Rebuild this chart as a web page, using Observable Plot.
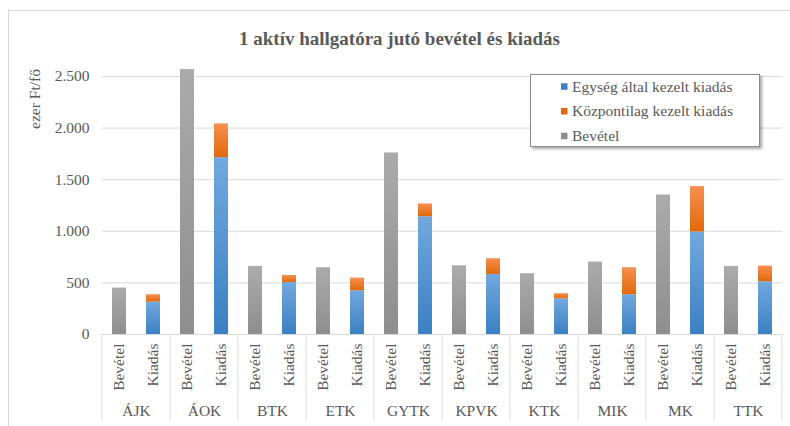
<!DOCTYPE html>
<html><head><meta charset="utf-8">
<script src="https://cdn.jsdelivr.net/npm/d3@7"></script>
<script src="https://cdn.jsdelivr.net/npm/@observablehq/plot@0.6"></script>
<style>
body{margin:0;background:#fff}
#chart svg, #chart svg text{font-family:"Liberation Serif","Times New Roman",serif !important;}
#chart svg{font-size:15.5px !important;}
</style>
</head><body><div id="chart"></div>
<script>
const groups = ["ÁJK","ÁOK","BTK","ETK","GYTK","KPVK","KTK","MIK","MK","TTK"];
const types = ["Bevétel","Kiadás"];
const seriesNames = ["Egység által kezelt kiadás","Központilag kezelt kiadás","Bevétel"];
const bevetel = [450, 2567, 660, 647, 1759, 666, 589, 702, 1352, 660];
const egysegKiadas = [314, 1714, 504, 424, 1141, 582, 346, 385, 993, 511];
const kozpontiKiadas = [71, 326, 68, 123, 124, 152, 49, 262, 440, 152];
const yTicks = [0, 500, 1000, 1500, 2000, 2500];
const titleText = "1 aktív hallgatóra jutó bevétel és kiadás";
const yTitle = "ezer Ft/fő";
const seriesColors = [["#72a8de","#3a80c3"],["#f68f52","#e2690a"],["#ababab","#8e8e8e"]];

const rows = [];
groups.forEach((g,i)=>{
  rows.push({group:g,type:types[0],series:seriesNames[2],value:bevetel[i]});
  rows.push({group:g,type:types[1],series:seriesNames[0],value:egysegKiadas[i]});
  rows.push({group:g,type:types[1],series:seriesNames[1],value:kozpontiKiadas[i]});
});
const gradIds = seriesNames.map((s,i)=>"grad"+i);
const fmt = d3.formatLocale({decimal:",",thousands:".",grouping:[3],currency:["",""]}).format(",d");
const textColor = "#595959";

const plot = Plot.plot({
  width:790, height:426, marginLeft:100, marginRight:7, marginTop:45, marginBottom:92,
  style:{fontFamily:"'Liberation Serif', serif", fontSize:"15.5px", color:textColor, background:"transparent"},
  fx:{domain:groups, padding:0, label:null},
  x:{domain:types, padding:0, label:null},
  y:{domain:[0,2800], label:null},
  color:{domain:seriesNames, range:gradIds.map(id=>`url(#${id})`)},
  marks:[
    Plot.ruleY(yTicks, {stroke:"#d9d9d9", strokeWidth:1}),
    Plot.barY(rows, Plot.stackY({fx:"group", x:"type", y:"value", z:"series", fill:"series", insetLeft:10, insetRight:10})),
    Plot.axisY({ticks:yTicks, tickSize:0, tickPadding:13, tickFormat:fmt, label:null}),
    Plot.axisX({tickRotate:-90, tickSize:0, tickPadding:9, label:null}),
    Plot.axisFx({anchor:"bottom", tickSize:0, tickPadding:70, label:null})
  ]
});

const svg = d3.select(plot);
const defs = svg.insert("defs", ":first-child");
seriesColors.forEach((c,i)=>{
  const lg = defs.append("linearGradient").attr("id", gradIds[i]).attr("x1",0).attr("y1",0).attr("x2",0).attr("y2",1);
  lg.append("stop").attr("offset","0%").attr("stop-color",c[0]);
  lg.append("stop").attr("offset","100%").attr("stop-color",c[1]);
});
// outer chart frame
svg.insert("rect", "defs + *").attr("x",8.5).attr("y",10.5).attr("width",800).attr("height",430)
  .attr("fill","white").attr("stroke","#d9d9d9");

// category separators from library scales
const fxS = plot.scale("fx"), yS = plot.scale("y");
const edges = groups.map(g=>fxS.apply(g)).concat([fxS.apply(groups[groups.length-1]) + fxS.bandwidth]);
const y0 = yS.apply(0);
svg.append("g").selectAll("line").data(edges).join("line")
  .attr("x1",d=>d).attr("x2",d=>d).attr("y1",y0).attr("y2",420)
  .attr("stroke","#d9d9d9");

// title
svg.append("text").attr("x",399.5).attr("y",45).attr("text-anchor","middle")
  .attr("font-weight","bold").style("font-size","19px").attr("fill",textColor).text(titleText);
// y title
svg.append("text").attr("transform","translate(35,99) rotate(-90)").attr("text-anchor","middle")
  .attr("dy","0.35em").attr("fill",textColor).text(yTitle);

// legend
const legendOrder = [0,1,2];
const lgG = svg.append("g").attr("text-anchor","start");
lgG.append("rect").attr("x",530.5).attr("y",74.5).attr("width",229).attr("height",72)
  .attr("fill","white").attr("stroke","#8c8c8c").style("filter","drop-shadow(2px 2px 1.5px rgba(0,0,0,0.35))");
legendOrder.forEach((si,k)=>{
  const cy = 86.5 + k*24.7;
  lgG.append("rect").attr("x",561).attr("y",cy-3.2).attr("width",6.5).attr("height",6.5).attr("fill",seriesColors[si][1]);
  lgG.append("text").attr("x",572).attr("y",cy).attr("dy","0.33em").attr("text-anchor","start").attr("fill",textColor).text(seriesNames[si]);
});

document.getElementById("chart").appendChild(plot);
</script></body></html>
